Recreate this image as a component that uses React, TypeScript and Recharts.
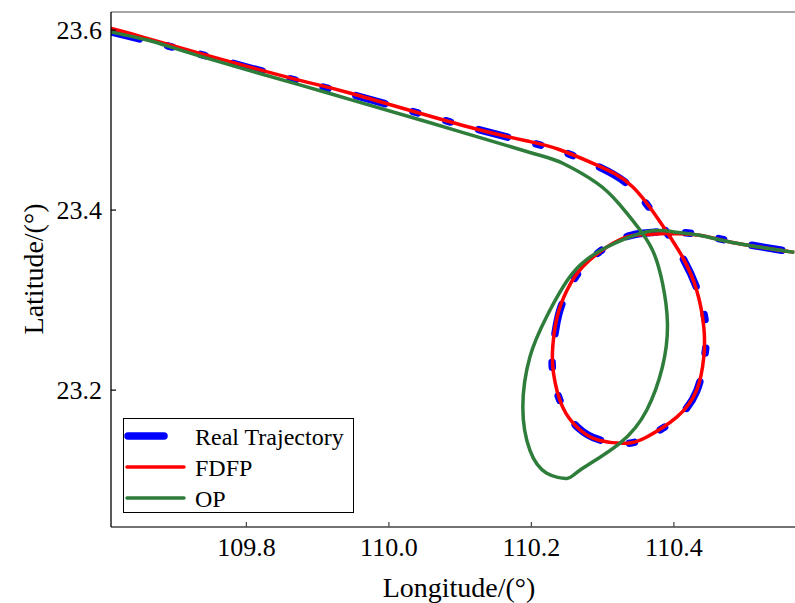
import React from "react";
import {
  LineChart,
  Line,
  XAxis,
  YAxis,
  ReferenceLine,
  Legend,
} from "recharts";

type Pt = { lon: number; lat: number };

// longitude / latitude
const realLon = [
  109.609, 109.651, 109.735, 109.875, 109.945, 110.104, 110.198, 110.24,
  110.292, 110.342, 110.384, 110.413, 110.434, 110.445, 110.443, 110.432,
  110.403, 110.36, 110.333, 110.295, 110.266, 110.243, 110.23, 110.231,
  110.238, 110.252, 110.274, 110.307, 110.34, 110.368, 110.392, 110.436,
  110.482, 110.569,
];
const realLat = [
  23.598, 23.59, 23.573, 23.543, 23.529, 23.494, 23.475, 23.466, 23.449,
  23.424, 23.382, 23.346, 23.309, 23.27, 23.236, 23.199, 23.168, 23.147,
  23.141, 23.145, 23.158, 23.183, 23.22, 23.25, 23.283, 23.312, 23.338, 23.36,
  23.372, 23.375, 23.376, 23.373, 23.365, 23.353,
];

const fdfpLon = [
  109.609, 109.651, 109.735, 109.875, 109.945, 110.104, 110.198, 110.24,
  110.292, 110.342, 110.384, 110.412, 110.432, 110.442, 110.442, 110.432,
  110.404, 110.362, 110.334, 110.296, 110.268, 110.244, 110.231, 110.23,
  110.236, 110.25, 110.272, 110.306, 110.338, 110.366, 110.39, 110.436,
  110.482, 110.569,
];
const fdfpLat = [
  23.602, 23.593, 23.574, 23.544, 23.53, 23.494, 23.476, 23.467, 23.45,
  23.426, 23.383, 23.348, 23.311, 23.27, 23.237, 23.2, 23.17, 23.148, 23.141,
  23.144, 23.156, 23.181, 23.219, 23.248, 23.281, 23.311, 23.337, 23.359,
  23.371, 23.373, 23.374, 23.372, 23.364, 23.353,
];

const opLon = [
  109.609, 109.665, 109.735, 109.875, 109.945, 110.058, 110.198, 110.244,
  110.292, 110.324, 110.356, 110.373, 110.384, 110.391, 110.384, 110.362,
  110.324, 110.268, 110.25, 110.221, 110.198, 110.188, 110.198, 110.221,
  110.258, 110.306, 110.362, 110.398, 110.436, 110.482, 110.569,
];
const opLat = [
  23.598, 23.588, 23.571, 23.539, 23.523, 23.497, 23.464, 23.452, 23.43,
  23.406, 23.374, 23.35, 23.319, 23.274, 23.226, 23.178, 23.141, 23.111,
  23.102, 23.108, 23.133, 23.181, 23.237, 23.281, 23.33, 23.359, 23.376,
  23.376, 23.372, 23.364, 23.353,
];

const xTicks = [109.8, 110.0, 110.2, 110.4];
const yTicks = [23.2, 23.4, 23.6];

const zip = (lon: number[], lat: number[]): Pt[] =>
  lon.map((v, i) => ({ lon: v, lat: lat[i] }));

const realData = zip(realLon, realLat);
const fdfpData = zip(fdfpLon, fdfpLat);
const opData = zip(opLon, opLat);

const FONT = "'Liberation Serif', 'Times New Roman', serif";

function XTick(props: any) {
  const { x, y, payload } = props;
  return (
    <g>
      <line x1={x} x2={x} y1={y} y2={y - 5} stroke="#444" strokeWidth={1.2} />
      <text x={x} y={y + 29} textAnchor="middle" fontSize={26} fontFamily={FONT} fill="#000">
        {Number(payload.value).toFixed(1)}
      </text>
    </g>
  );
}

function YTick(props: any) {
  const { x, y, payload } = props;
  return (
    <g>
      <line x1={x} x2={x + 5} y1={y} y2={y} stroke="#000" strokeWidth={1.2} />
      <text x={x - 9} y={y + 9} textAnchor="end" fontSize={26} fontFamily={FONT} fill="#000">
        {Number(payload.value).toFixed(1)}
      </text>
    </g>
  );
}

const legendItems = [
  { name: "Real Trajectory", color: "#0000ff", width: 7.5, x1: 4, x2: 40 },
  { name: "FDFP", color: "#ff0000", width: 3.5, x1: 3, x2: 60 },
  { name: "OP", color: "#2e7d3b", width: 3.5, x1: 3, x2: 60 },
];

function LegendBox() {
  return (
    <div
      style={{
        width: 231,
        height: 95,
        border: "1.2px solid #000",
        background: "#fff",
        boxSizing: "border-box",
        position: "relative",
      }}
    >
      <svg width={229} height={93} style={{ position: "absolute", left: 0, top: 0 }}>
        {legendItems.map((it, i) => (
          <g key={it.name}>
            <line
              x1={it.x1}
              x2={it.x2}
              y1={17 + i * 31}
              y2={17 + i * 31}
              stroke={it.color}
              strokeWidth={it.width}
              strokeLinecap="round"
            />
            <text x={71} y={26 + i * 31} fontSize={24} fontFamily={FONT} fill="#000">
              {it.name}
            </text>
          </g>
        ))}
      </svg>
    </div>
  );
}

export default function App() {
  return (
    <div style={{ position: "absolute", left: 0, top: 0, width: 795, height: 603, background: "#fff" }}>
      <LineChart
        width={795}
        height={603}
        margin={{ top: 12, right: 0, bottom: 0, left: 0 }}
      >
        <XAxis
          type="number"
          dataKey="lon"
          domain={[109.61, 110.57]}
          allowDataOverflow
          ticks={xTicks}
          height={76}
          tickSize={0}
          tickMargin={0}
          tick={<XTick />}
          axisLine={{ stroke: "#444", strokeWidth: 1.3 }}
          label={{
            content: () => (
              <text x={459} y={597} textAnchor="middle" fontSize={28} fontFamily={FONT} fill="#000">
                Longitude/(°)
              </text>
            ),
          }}
        />
        <YAxis
          type="number"
          dataKey="lat"
          domain={[23.048, 23.62]}
          allowDataOverflow
          ticks={yTicks}
          width={111}
          tickSize={0}
          tickMargin={0}
          tick={<YTick />}
          axisLine={{ stroke: "#000", strokeWidth: 1.3 }}
          label={{
            content: () => (
              <text
                x={43}
                y={269}
                transform="rotate(-90, 43, 269)"
                textAnchor="middle"
                fontSize={28}
                fontFamily={FONT}
                fill="#000"
              >
                Latitude/(°)
              </text>
            ),
          }}
        />
        <ReferenceLine y={23.62} stroke="#888" strokeWidth={1.5} />
        <Line
          data={realData}
          dataKey="lat"
          type="natural"
          stroke="#0000ff"
          strokeWidth={7.5}
          strokeDasharray="30 29 5 29 5 29"
          strokeLinecap="round"
          dot={false}
          activeDot={false}
          isAnimationActive={false}
          name="Real Trajectory"
        />
        <Line
          data={fdfpData}
          dataKey="lat"
          type="natural"
          stroke="#ff0000"
          strokeWidth={3.5}
          dot={false}
          activeDot={false}
          isAnimationActive={false}
          name="FDFP"
        />
        <Line
          data={opData}
          dataKey="lat"
          type="natural"
          stroke="#2e7d3b"
          strokeWidth={3.5}
          dot={false}
          activeDot={false}
          isAnimationActive={false}
          name="OP"
        />
        <Legend
          layout="vertical"
          align="center"
          verticalAlign="middle"
          wrapperStyle={{ left: 123, top: 418, width: 231, height: 95 }}
          content={() => <LegendBox />}
        />
      </LineChart>
    </div>
  );
}
